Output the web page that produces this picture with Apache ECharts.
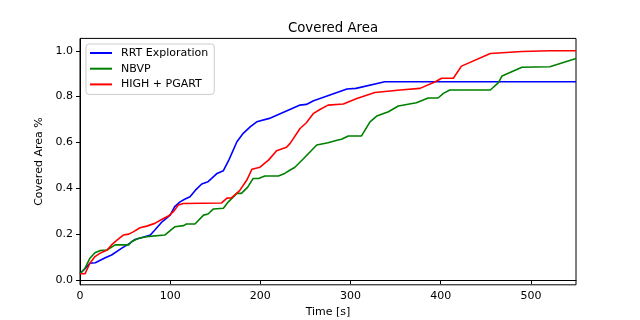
<!DOCTYPE html>
<html>
<head>
<meta charset="utf-8">
<script src="https://cdn.jsdelivr.net/npm/echarts@6/dist/echarts.min.js"></script>
<style>
  html, body { margin: 0; padding: 0; background: #fff; }
  #chart { width: 640px; height: 320px; }
</style>
</head>
<body>
<div id="chart"></div>
<script>
// time [s] / covered fraction
const rrtTime = [0, 5, 11, 17, 28, 35, 46, 55, 61, 68, 78, 83, 91, 100, 105, 111, 116, 122, 128, 135, 142, 146, 152, 159, 165, 174, 181, 189, 196, 210, 244, 251, 259, 296, 306, 338, 550];
const rrtArea = [0.027, 0.047, 0.073, 0.075, 0.097, 0.109, 0.138, 0.160, 0.177, 0.184, 0.196, 0.218, 0.254, 0.283, 0.320, 0.341, 0.352, 0.363, 0.392, 0.419, 0.429, 0.443, 0.465, 0.477, 0.523, 0.603, 0.640, 0.669, 0.690, 0.705, 0.763, 0.766, 0.782, 0.833, 0.836, 0.865, 0.865];

const nbvpTime = [0, 5.5, 11, 16.6, 22, 30, 39, 54, 57, 65, 74, 94, 105, 115, 118, 127.5, 137, 142, 148, 159, 164.5, 174, 179, 186, 192, 198, 205, 220, 227, 233, 238, 248, 262.5, 275, 285, 290, 297.5, 312, 321.6, 329, 342, 353, 373, 386, 397, 403, 410, 455, 464, 468, 490, 521, 550];
const nbvpArea = [0.027, 0.051, 0.095, 0.119, 0.128, 0.131, 0.153, 0.153, 0.167, 0.182, 0.189, 0.196, 0.232, 0.237, 0.244, 0.244, 0.283, 0.288, 0.310, 0.313, 0.341, 0.378, 0.378, 0.405, 0.443, 0.443, 0.454, 0.454, 0.465, 0.480, 0.491, 0.530, 0.589, 0.599, 0.610, 0.614, 0.628, 0.628, 0.690, 0.715, 0.734, 0.759, 0.773, 0.794, 0.794, 0.814, 0.829, 0.829, 0.861, 0.890, 0.928, 0.930, 0.966];

const pgartTime = [0, 5.5, 11, 16.6, 22, 30, 35, 41, 48, 54, 59, 66.5, 74, 83, 91, 98, 103.5, 109, 114.6, 157, 163, 168, 177, 185, 190.6, 199.6, 209, 218, 229, 233, 244, 251, 259, 266, 275, 292, 307, 327, 355, 377, 394, 401, 414, 423, 455, 490, 521, 550];
const pgartArea = [0.027, 0.027, 0.073, 0.102, 0.116, 0.131, 0.153, 0.174, 0.196, 0.200, 0.210, 0.228, 0.235, 0.247, 0.265, 0.279, 0.298, 0.327, 0.334, 0.336, 0.357, 0.358, 0.390, 0.436, 0.483, 0.492, 0.523, 0.564, 0.579, 0.596, 0.661, 0.686, 0.727, 0.744, 0.763, 0.768, 0.792, 0.818, 0.829, 0.836, 0.865, 0.880, 0.880, 0.933, 0.988, 0.997, 1.0, 1.0];

const xTicks = [0, 100, 200, 300, 400, 500];
const yTicks = [0, 0.2, 0.4, 0.6, 0.8, 1.0];

function pairs(xs, ys) {
  return xs.map((x, i) => [x, ys[i]]);
}

const font = 'DejaVu Sans';
const chart = echarts.init(document.getElementById('chart'), null, { renderer: 'canvas' });

function lineSeries(name, xs, ys, color) {
  return {
    name: name,
    type: 'line',
    data: pairs(xs, ys),
    symbol: 'none',
    animation: false,
    lineStyle: { color: color, width: 1.6 },
    itemStyle: { color: color }
  };
}

chart.setOption({
  animation: false,
  title: {
    text: 'Covered Area',
    left: 328,
    top: 17,
    textAlign: 'center',
    textStyle: { fontFamily: font, fontSize: 13.3, fontWeight: 'normal', color: '#000' }
  },
  legend: {
    orient: 'vertical',
    left: 86,
    top: 44,
    padding: [3, 6, 4, 4],
    itemGap: 3.7,
    itemWidth: 22,
    itemHeight: 2,
    icon: 'rect',
    backgroundColor: 'rgba(255,255,255,0.8)',
    borderColor: '#cccccc',
    borderWidth: 1,
    borderRadius: 3,
    textStyle: { fontFamily: font, fontSize: 11, color: '#000', lineHeight: 12, padding: [0, 0, 0, 4] },
    data: ['RRT Exploration', 'NBVP', 'HIGH + PGART']
  },
  grid: {
    left: 80, right: 64, top: 38.4, bottom: 35.2,
    outerBoundsMode: 'none',
    containLabel: false,
    show: true, borderColor: '#000', borderWidth: 1, backgroundColor: '#fff'
  },
  xAxis: {
    type: 'value',
    min: 0,
    max: 550,
    name: 'Time [s]',
    nameLocation: 'middle',
    nameGap: 21,
    nameTextStyle: { fontFamily: font, fontSize: 11, color: '#000' },
    splitLine: { show: false },
    axisLine: { show: true, lineStyle: { color: '#000', width: 1 } },
    axisTick: { show: true, length: 4, customValues: xTicks, lineStyle: { color: '#000' } },
    axisLabel: { margin: 6, customValues: xTicks, fontFamily: font, fontSize: 11, color: '#000' }
  },
  yAxis: {
    type: 'value',
    min: -0.021,
    max: 1.054,
    name: 'Covered Area %',
    nameLocation: 'middle',
    nameRotate: 90,
    nameGap: 28,
    nameTextStyle: { fontFamily: font, fontSize: 11, color: '#000' },
    splitLine: { show: false },
    axisLine: { show: true, lineStyle: { color: '#000', width: 1 } },
    axisTick: { show: true, length: 4, customValues: yTicks, lineStyle: { color: '#000' } },
    axisLabel: {
      margin: 7, customValues: yTicks, fontFamily: font, fontSize: 11, color: '#000',
      formatter: v => v.toFixed(1)
    }
  },
  series: [
    lineSeries('RRT Exploration', rrtTime, rrtArea, '#0000ff'),
    lineSeries('NBVP', nbvpTime, nbvpArea, '#008000'),
    lineSeries('HIGH + PGART', pgartTime, pgartArea, '#ff0000')
  ]
});
</script>
</body>
</html>
